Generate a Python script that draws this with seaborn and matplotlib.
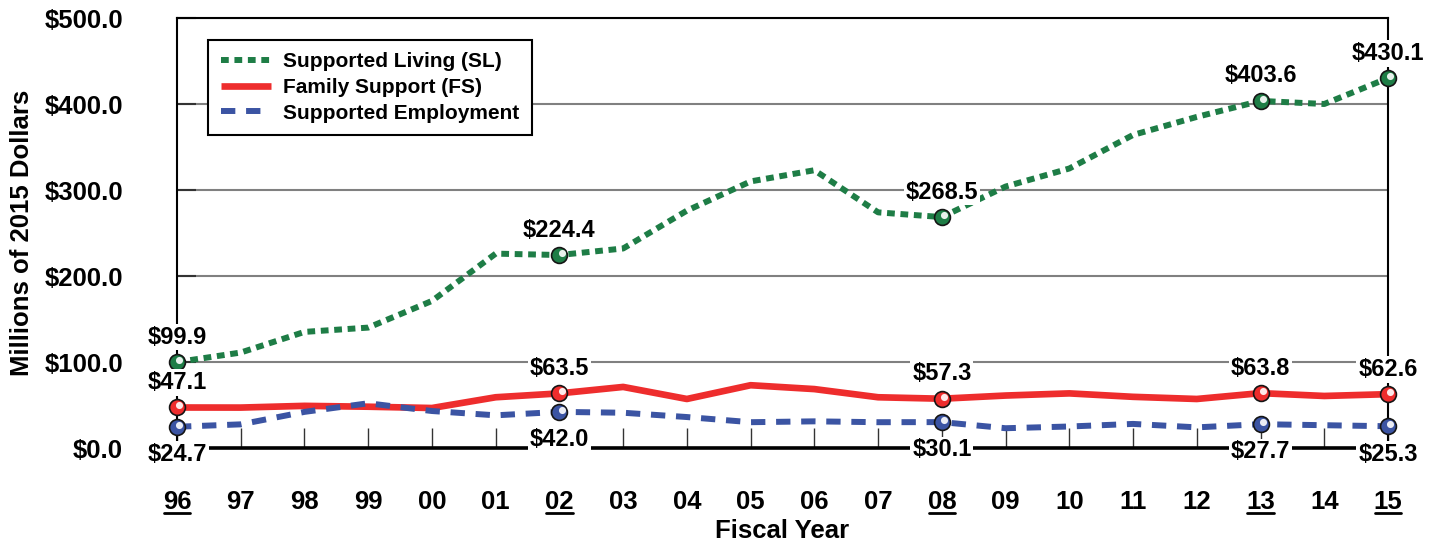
import matplotlib
matplotlib.use("Agg")
import matplotlib.pyplot as plt
import matplotlib.transforms as mtransforms
from matplotlib.lines import Line2D
import pandas as pd
import seaborn as sns

# data (millions of 2015 dollars)
years = ['96', '97', '98', '99', '00', '01', '02', '03', '04', '05',
         '06', '07', '08', '09', '10', '11', '12', '13', '14', '15']
living = [99.9, 111, 135, 140, 171, 226, 224.4, 232, 276, 310,
          323, 274, 268.5, 304, 325, 364, 385, 403.6, 400, 430.1]
family = [47.1, 47, 49, 48, 46.5, 59, 63.5, 71, 57, 73,
          68.5, 59, 57.3, 61, 63.5, 59.5, 57, 63.8, 60.5, 62.6]
employment = [24.7, 27.5, 42, 52, 43, 38, 42.0, 41, 36, 30,
              31, 30, 30.1, 23, 25, 28, 24, 27.7, 26.5, 25.3]
marked_years = ['96', '02', '08', '13', '15']
names = ['Supported Living (SL)', 'Family Support (FS)', 'Supported Employment']

sns.set_theme(style='white')
plt.rcParams['font.family'] = ['Liberation Sans', 'DejaVu Sans']
plt.rcParams['font.weight'] = 'bold'
plt.rcParams['text.color'] = 'black'

df = pd.DataFrame({'idx': range(len(years)), 'year': years,
                   'SL': living, 'FS': family, 'SE': employment})
marked = df[df['year'].isin(marked_years)]

green = '#1e7d46'
red = '#ee2d2d'
blue = '#3b54a3'

fig = plt.figure(figsize=(14.39, 5.49), dpi=100)
ax = fig.add_axes([177 / 1439, 1 - 448 / 549, 1211 / 1439, 430 / 549])

# lines
sns.lineplot(data=df, x='idx', y='FS', ax=ax, color=red, linewidth=4.8,
             solid_capstyle='butt', zorder=3, label=names[1])
sns.lineplot(data=df, x='idx', y='SE', ax=ax, color=blue, linewidth=4.3,
             linestyle=(0, (2.4, 1.8)), dash_capstyle='butt', zorder=3, label=names[2])
sns.lineplot(data=df, x='idx', y='SL', ax=ax, color=green, linewidth=4.3,
             linestyle=(0, (1.3, 0.95)), dash_capstyle='butt', zorder=3, label=names[0])

# sphere-like markers + labels at the marked years
shine = ax.transData + mtransforms.ScaledTranslation(1.5 / 72, 1.5 / 72, fig.dpi_scale_trans)
for col, colr, up in [('SL', green, True), ('FS', red, True), ('SE', blue, False)]:
    sns.scatterplot(data=marked, x='idx', y=col, ax=ax, s=130, color=colr,
                    edgecolor='#151515', linewidth=1.2, zorder=6, clip_on=False, legend=False)
    ax.scatter(marked['idx'], marked[col], s=26, color='white', alpha=0.9,
               linewidths=0, transform=shine, zorder=7, clip_on=False)
    for i, v in zip(marked['idx'], marked[col]):
        ax.annotate(f'${v:.1f}', (i, v), xytext=(0, 18 if up else -20),
                    textcoords='offset points', ha='center', va='center',
                    fontsize=17, fontweight='bold', color='black', zorder=10,
                    annotation_clip=False,
                    bbox=dict(boxstyle='square,pad=0.08', fc='white', ec='none'))

ax.set_xlim(0, len(years) - 1)
ax.set_ylim(0, 500)
ax.set_xticks(df['idx'])
ax.set_xticklabels(years)
ax.set_yticks(range(0, 501, 100))
ax.set_yticklabels([f'${v:.1f}' for v in range(0, 501, 100)])

ax.tick_params(axis='x', direction='in', length=14.4, width=1.0, color='#333333',
               pad=30, labelsize=18.5, labelcolor='black', bottom=True)
ax.tick_params(axis='y', direction='in', length=13.7, width=1.5, color='#333333',
               pad=39, labelsize=18.5, labelcolor='black', left=True)
for lab in ax.get_xticklabels() + ax.get_yticklabels():
    lab.set_fontweight('bold')

ax.grid(axis='y', color='#808080', linewidth=1.5)
ax.grid(axis='x', visible=False)
ax.set_axisbelow(True)
for s in ['left', 'top', 'right']:
    ax.spines[s].set_linewidth(1.5)
    ax.spines[s].set_color('black')
ax.spines['bottom'].set_linewidth(2.6)
ax.spines['bottom'].set_color('black')

ax.set_xlabel('Fiscal Year', fontsize=18.5, fontweight='bold', color='black')
ax.set_ylabel('Millions of 2015 Dollars', fontsize=18.5, fontweight='bold', color='black')
ax.xaxis.set_label_coords(0.5, -0.165)
ax.yaxis.set_label_coords(-0.118, 0.5)

# legend in the order of the reference
h, l = ax.get_legend_handles_labels()
order = [l.index(n) for n in names]
leg = ax.legend([h[i] for i in order], [l[i] for i in order], loc='upper left',
                bbox_to_anchor=(0.0256, 0.949), borderaxespad=0, fontsize=15,
                fancybox=False, framealpha=1, edgecolor='black', handlelength=2.4,
                handletextpad=0.6, labelspacing=0.32, borderpad=0.6)
leg.get_frame().set_linewidth(1.5)
for t in leg.get_texts():
    t.set_fontweight('bold')
    t.set_color('black')
leg.set_zorder(9)

# underline the marked year labels
fig.canvas.draw()
inv = fig.transFigure.inverted()
for lab in ax.get_xticklabels():
    if lab.get_text() in marked_years:
        bb = lab.get_window_extent()
        (x0, y0), (x1, _) = inv.transform([(bb.x0 + 1, bb.y0 + 1), (bb.x1 - 1, bb.y0 + 1)])
        fig.add_artist(Line2D([x0, x1], [y0, y0], transform=fig.transFigure,
                              color='black', linewidth=2.0))

fig.savefig('out.png', dpi=100)
